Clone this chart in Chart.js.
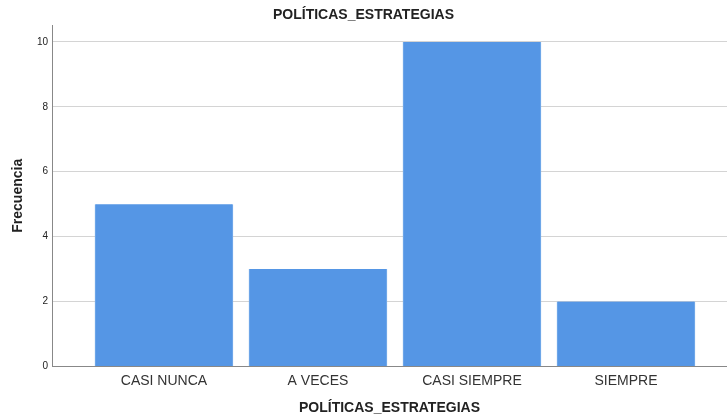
<!DOCTYPE html>
<html>
<head>
<meta charset="utf-8">
<script src="https://cdn.jsdelivr.net/npm/chart.js@4/dist/chart.umd.min.js"></script>
<style>
  html, body { margin: 0; padding: 0; background: #fff; }
  #wrap { width: 727px; height: 419px; }
</style>
</head>
<body>
<div id="wrap"><canvas id="myChart"></canvas></div>
<script>
const categories = ['CASI NUNCA', 'A VECES', 'CASI SIEMPRE', 'SIEMPRE'];
const frecuencias = [5, 3, 10, 2];
const yTicks = [0, 2, 4, 6, 8, 10];

const chartTitle = 'POLÍTICAS_ESTRATEGIAS';
const textColor = '#222222';
const fontFamily = 'Arial, "Liberation Sans", sans-serif';

const ctx = document.getElementById('myChart').getContext('2d');
const chart = new Chart(ctx, {
  type: 'bar',
  data: {
    datasets: [{
      label: 'Frecuencia',
      data: frecuencias.map((v, i) => ({ x: i, y: v })),
      backgroundColor: '#5596e5',
      borderColor: '#7aaeea',
      borderWidth: { left: 1, right: 1, top: 0, bottom: 0 },
      barThickness: 138
    }]
  },
  options: {
    responsive: true,
    maintainAspectRatio: false,
    animation: false,
    layout: { padding: 0 },
    plugins: {
      legend: { display: false },
      tooltip: { enabled: false },
      title: {
        display: true,
        text: chartTitle,
        color: textColor,
        font: { family: fontFamily, size: 14, weight: 'bold' },
        padding: { top: 7, bottom: 1.2 }
      }
    },
    scales: {
      x: {
        type: 'linear',
        offset: false,
        min: -0.727,
        max: 3.656,
        afterBuildTicks: (scale) => {
          scale.ticks = categories.map((c, i) => ({ value: i }));
        },
        afterFit: (scale) => { scale.height = 52.5; },
        grid: { display: false, drawTicks: false, offset: false },
        border: { display: true, color: '#888888', width: 1 },
        ticks: {
          autoSkip: false,
          maxRotation: 0,
          padding: 6,
          color: '#333333',
          font: { family: fontFamily, size: 14 },
          callback: (value) => categories[value]
        },
        title: {
          display: true,
          text: chartTitle,
          color: textColor,
          font: { family: fontFamily, size: 14, weight: 'bold' },
          padding: { top: 4, bottom: 2.5 }
        }
      },
      y: {
        min: 0,
        max: 10.52,
        afterBuildTicks: (scale) => {
          scale.ticks = yTicks.map(v => ({ value: v }));
        },
        afterFit: (scale) => { scale.width = 52; },
        grid: {
          color: '#d4d4d4',
          lineWidth: 1,
          drawTicks: false
        },
        border: { display: true, color: '#888888', width: 1 },
        ticks: {
          padding: 4,
          color: textColor,
          font: { family: fontFamily, size: 10 }
        },
        title: {
          display: true,
          text: 'Frecuencia',
          color: textColor,
          font: { family: fontFamily, size: 14, weight: 'bold' },
          padding: { top: 10, bottom: 0 }
        }
      }
    }
  }
});
</script>
</body>
</html>
